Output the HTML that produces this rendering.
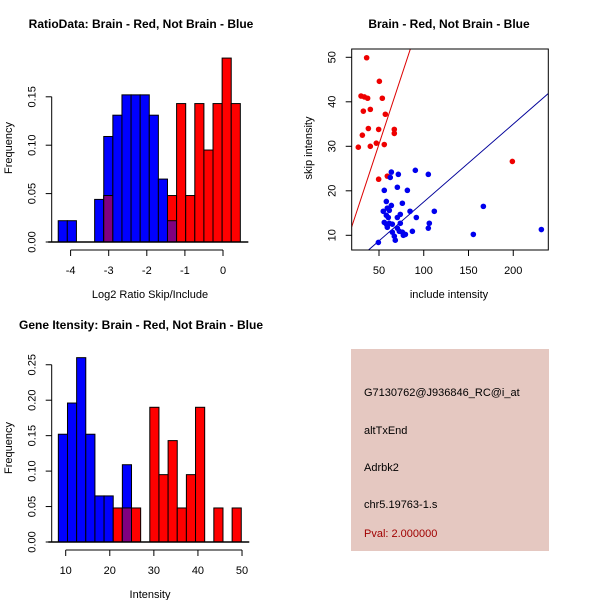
<!DOCTYPE html>
<html><head><meta charset="utf-8">
<style>
html,body{margin:0;padding:0;background:#fff;}
svg{display:block;font-family:"Liberation Sans",Arial,sans-serif;}
</style></head>
<body>
<svg id="c" width="600" height="600" viewBox="0 0 600 600"></svg>
<script>
// ---- Panel 1: RatioData histogram ----
const ratioBinStart = -4.325;
const ratioBinWidth = 0.239;
const ratioBlue = [0.022,0.022,0,0,0.044,0.109,0.131,0.152,0.152,0.152,0.131,0.065,0.022,0,0,0,0,0,0,0];
const ratioRed  = [0,0,0,0,0,0.048,0,0,0,0,0,0,0.048,0.143,0.048,0.143,0.095,0.143,0.19,0.143];
const ratioXTicks = [-4,-3,-2,-1,0];
const ratioYTicks = ["0.00","0.05","0.10","0.15"];
// ---- Panel 2: scatter ----
const redInc  = [36.2,50.4,29.9,33.6,37.3,53.7,32.5,40.3,57.1,38.1,49.6,67.1,67.1,31.4,26.9,40.3,47.0,55.9,49.6,59.3,199];
const redSkip = [49.9,44.6,41.3,41.1,40.8,40.8,37.9,38.3,37.2,34.0,33.8,33.8,32.9,32.5,29.8,30.0,30.7,30.4,22.6,23.3,26.6];
const blueInc  = [63.8,71.6,90.6,105.1,62.6,70.5,55.9,81.7,58.2,76.1,63.8,54.8,59.3,61.5,84.7,111.8,166.6,58.2,60.4,70.5,73.8,91.7,55.9,58.2,61.5,64.9,73.8,59.3,70.5,106.2,105.1,72.7,64.9,76.1,87.3,67.1,77.2,79.5,68.2,49.3,155.4,231.4];
const blueSkip = [24.2,23.7,24.6,23.7,23.0,20.8,20.1,20.1,17.6,17.2,16.7,15.4,16.1,15.6,15.4,15.4,16.5,14.5,14.0,14.0,14.7,14.0,12.9,12.5,12.7,12.5,12.7,11.8,11.6,12.7,11.6,10.9,10.7,10.7,10.9,9.8,10.0,10.2,8.9,8.4,10.2,11.3];
const lineSlopes = [0.61,0.175];
const scatterXTicks = [50,100,150,200];
const scatterYTicks = [10,20,30,40,50];
// ---- Panel 3: intensity histogram ----
const intBinStart = 8.33;
const intBinWidth = 2.075;
const intBlue = [0.152,0.196,0.26,0.152,0.065,0.065,0,0.109,0,0,0,0,0,0,0,0,0,0,0,0];
const intRed  = [0,0,0,0,0,0,0.048,0.048,0.048,0,0.19,0.095,0.143,0.048,0.095,0.19,0,0.048,0,0.048];
const intXTicks = [10,20,30,40,50];
const intYTicks = ["0.00","0.05","0.10","0.15","0.20","0.25"];

const svg = document.getElementById('c');
const NS = 'http://www.w3.org/2000/svg';
function mk(tag, attrs, parent){
  const e = document.createElementNS(NS, tag);
  for (const k in attrs) e.setAttribute(k, attrs[k]);
  (parent||svg).appendChild(e);
  return e;
}
function txt(s, x, y, opts, parent){
  const t = mk('text', Object.assign({x:x,y:y,'font-size':11,'text-anchor':'middle',fill:'#000'}, opts||{}), parent);
  t.textContent = s;
  return t;
}

function histPanel(name, binStart, binW, blue, red, sx, sy, xTicks, yTicks, yStep, axisY, yAxisX, title, titleY, xlab, xlabY, ylabY){
  const g = mk('g', {});
  
  
  for (let i = 0; i < blue.length; i++){
    const x0 = sx(binStart + i*binW), x1 = sx(binStart + (i+1)*binW);
    const b = blue[i], r = red[i], m = Math.min(b, r);
    if (b > 0){
      const el = mk('rect', {x:x0,y:sy(b),width:x1-x0,height:sy(0)-sy(b),fill:'#0000ff',stroke:'#000','stroke-width':1}, g);
      
      
    }
    if (r > 0){
      const el = mk('rect', {x:x0,y:sy(r),width:x1-x0,height:sy(0)-sy(r),fill:'#ff0000',stroke:'#000','stroke-width':1}, g);
      
      
    }
    if (m > 0){
      const el = mk('rect', {x:x0,y:sy(m),width:x1-x0,height:sy(0)-sy(m),fill:'#800080',stroke:'#000','stroke-width':1}, g);
      
      
    }
  }
  mk('line', {x1:sx(binStart)-10,x2:sx(binStart+blue.length*binW)+8,y1:sy(0),y2:sy(0),stroke:'#000','stroke-width':1.5}, g);
  // y axis
  const ya = mk('g', {}, g);
  
  
  const yTop = sy((yTicks.length-1)*yStep);
  mk('line', {x1:yAxisX,x2:yAxisX,y1:yTop,y2:sy(0),stroke:'#000'}, ya);
  yTicks.forEach((lab, i) => {
    const yy = sy(i*yStep);
    mk('line', {x1:yAxisX-6,x2:yAxisX,y1:yy,y2:yy,stroke:'#000'}, ya);
    txt(lab, 0, 0, {transform:'translate(' + (yAxisX-16) + ',' + yy + ') rotate(-90)'}, ya);
  });
  // x axis
  const xa = mk('g', {}, g);
  
  
  mk('line', {x1:sx(xTicks[0]),x2:sx(xTicks[xTicks.length-1]),y1:axisY,y2:axisY,stroke:'#000'}, xa);
  xTicks.forEach(v => {
    mk('line', {x1:sx(v),x2:sx(v),y1:axisY,y2:axisY+6,stroke:'#000'}, xa);
    txt(String(v), sx(v), axisY+24, {}, xa);
  });
  const t = txt(title, 141, titleY, {'font-weight':'bold','font-size':12}, g);
  
  
  const xl = txt(xlab, 150, xlabY, {}, g);
  
  
  const yl = txt('Frequency', 0, 0, {transform:'translate(12,' + ylabY + ') rotate(-90)'}, g);
  
  
}

// Panel 1
histPanel('ratio-histogram', ratioBinStart, ratioBinWidth, ratioBlue, ratioRed,
  v => 223 + v*38.1, v => 242 - v*968, ratioXTicks, ratioYTicks, 0.05, 250, 51.7,
  'RatioData: Brain - Red, Not Brain - Blue', 28, 'Log2 Ratio Skip/Include', 298, 148);

// Panel 3
histPanel('intensity-histogram', intBinStart, intBinWidth, intBlue, intRed,
  v => 65.7 + (v-10)*4.408, v => 542 - v*709, intXTicks, intYTicks, 0.05, 550, 51.7,
  'Gene Itensity: Brain - Red, Not Brain - Blue', 329, 'Intensity', 598, 448);

// Panel 2 scatter
(function(){
  const g = mk('g', {});
  
  
  const sx = v => 379 + (v-50)*0.895;
  const sy = v => 235.3 - (v-10)*4.45;
  const L = 351.7, R = 548.3, T = 49, B = 250;
  mk('clipPath', {id:'clip'}, g);
  const cp = g.lastChild;
  mk('rect', {x:L,y:T,width:R-L,height:B-T}, cp);
  const colors = ['#dd0000','#000099'];
  lineSlopes.forEach((s, i) => {
    const xa = 19.5, xb = 239;
    const el = mk('line', {x1:sx(xa),y1:sy(s*xa),x2:sx(xb),y2:sy(s*xb),stroke:colors[i],'stroke-width':1,'clip-path':'url(#clip)'}, g);
    
    
  });
  redInc.forEach((v, i) => {
    const el = mk('circle', {cx:sx(v),cy:sy(redSkip[i]),r:2.8,fill:'#ee0000'}, g);
    
    
  });
  blueInc.forEach((v, i) => {
    const el = mk('circle', {cx:sx(v),cy:sy(blueSkip[i]),r:2.8,fill:'#0000ee'}, g);
    
    
  });
  mk('rect', {x:L,y:T,width:R-L,height:B-T,fill:'none',stroke:'#000'}, g);
  scatterXTicks.forEach(v => {
    mk('line', {x1:sx(v),x2:sx(v),y1:B,y2:B+6,stroke:'#000'}, g);
    txt(String(v), sx(v), 274, {}, g);
  });
  scatterYTicks.forEach(v => {
    mk('line', {x1:L-6,x2:L,y1:sy(v),y2:sy(v),stroke:'#000'}, g);
    txt(String(v), 0, 0, {transform:'translate(' + (L-16) + ',' + sy(v) + ') rotate(-90)'}, g);
  });
  const t = txt('Brain - Red, Not Brain - Blue', 449, 28, {'font-weight':'bold','font-size':12}, g);
  
  
  const xl = txt('include intensity', 449, 298, {}, g);
  
  
  const yl = txt('skip intensity', 0, 0, {transform:'translate(312,148) rotate(-90)'}, g);
  
  
})();

// Panel 4 info box
(function(){
  const g = mk('g', {});
  
  
  mk('rect', {x:351,y:349,width:198,height:202,fill:'#e5c8c1'}, g);
  const lines = [['G7130762@J936846_RC@i_at',396,'#000'],['altTxEnd',434,'#000'],['Adrbk2',471,'#000'],['chr5.19763-1.s',508,'#000'],['Pval: 2.000000',537,'#a00000']];
  lines.forEach(l => {
    const t = txt(l[0], 364, l[1], {'text-anchor':'start',fill:l[2]}, g);
    
    
  });
})();
</script>
</body></html>
